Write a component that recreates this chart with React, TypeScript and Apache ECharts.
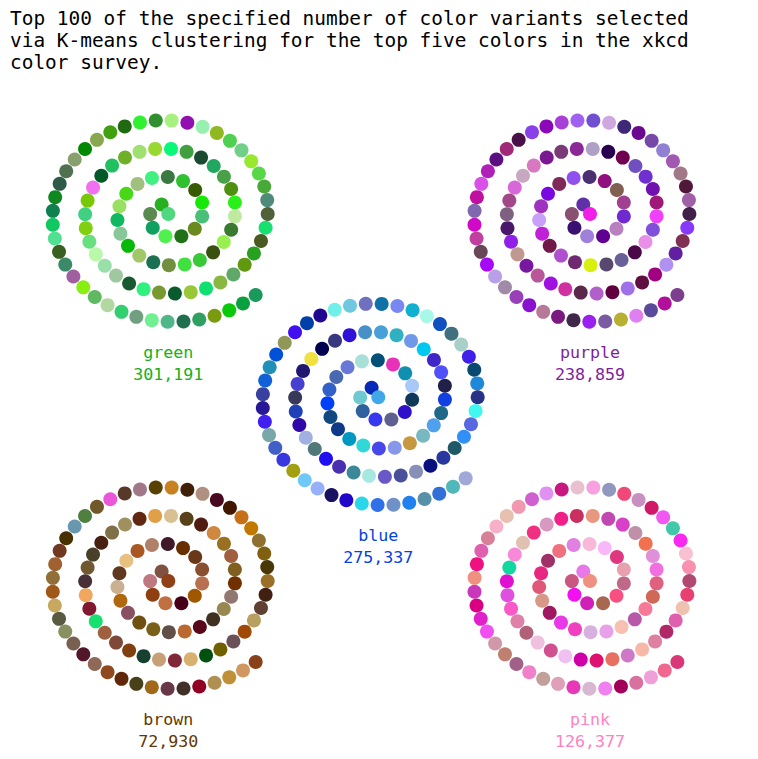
import React, { useEffect, useRef } from "react";
import * as echarts from "echarts";

const titleLines = [
  "Top 100 of the specified number of color variants selected",
  "via K-means clustering for the top five colors in the xkcd",
  "color survey.",
];

const spiralNames = ["green", "purple", "blue", "brown", "pink"];
const spiralCounts = ["301,191", "238,859", "275,337", "72,930", "126,377"];
const labelColors = ["#15b01a", "#7e1e9c", "#0343df", "#653700", "#ff81c0"];

// colors listed from the spiral centre (index 0) outward (index 99)
const greenColors = [
  "#50d880","#28b020","#5a8a50","#10a060","#50f050","#207018","#6a8a20","#48c078","#18e808","#385a00",
  "#30c030","#3a7a40","#40f080","#a0c080","#48d818","#98e060","#10b860","#88c898","#08b808","#a0c868",
  "#1a7050","#709040","#40e040","#38c838","#3a5010","#98f050","#3a7a30","#c0eaa0","#28f018","#509010",
  "#48a048","#20a860","#1a4a30","#40a040","#08f878","#98d830","#a0e070","#70b028","#20c060","#005a28",
  "#f070f0","#78c808","#40d080","#80d010","#68e080","#b8f8a8","#98e0a8","#a0c8a0","#185a30","#30f080",
  "#789830","#0a5a30","#98c838","#10e070","#88b840","#60a868","#609810","#28a020","#4a5a20","#18e070",
  "#506038","#508a78","#48a838","#58d848","#98e830","#70d088","#50d050","#90b820","#98f0b0","#9010b0",
  "#a8f080","#309030","#30f030","#206a10","#40a010","#88a850","#008800","#88a070","#507050","#305a48",
  "#108820","#108050","#10c860","#50e090","#3a6020","#3a8a6a","#a060a0","#88f010","#60b860","#b0d8a0",
  "#30d070","#70a080","#70f090","#50b888","#207050","#30a060","#7a9a10","#0ac80a","#0aa040","#1a9a5a",
];

const purpleColors = [
  "#f020e8","#6030a8","#8a5070","#3a1070","#a080d8","#600090","#b880c0","#7028d0","#a04090","#806050",
  "#901080","#4a3070","#9050f0","#802858","#7a08e0","#a030c0","#c8a0f8","#c020d8","#701848","#b050d0",
  "#702870","#d8f010","#584870","#6a6098","#4a0848","#e890e8","#8050d8","#f040f8","#a01878","#7010b0",
  "#7030d0","#7050c0","#700050","#2a0050","#b0a0c8","#8a2898","#7a3a78","#7a1890","#d878c0","#c8a8c0",
  "#d868d8","#a04888","#806080","#4a1868","#9020e8","#c09890","#7818a0","#b85898","#a010e0","#d030a0",
  "#5a2848","#b060c8","#600040","#a070e8","#601040","#a00080","#b090f0","#6020a0","#803050","#8838f8",
  "#402048","#a060a8","#501838","#a07888","#a058b0","#9080d0","#7848a8","#6a0890","#402878","#d0a8e0",
  "#7050d0","#a060f0","#a840d8","#8a08b8","#8a40e8","#4a1048","#a02878","#5a1080","#b020b8","#d850e8",
  "#c010a0","#8068b0","#d008c8","#c040a0","#684858","#a808f8","#b8a0e8","#a08aa8","#9840b8","#8a10d0",
  "#b87898","#7a1a80","#402848","#9a20f0","#7a5aa0","#b8b030","#e080f0","#5a4a9a","#b0109a","#7e3e8e",
];

const blueColors = [
  "#40a8e8","#0828b8","#70c8d0","#3060a0","#3838f0","#606090","#3010c8","#103858","#a8c8f8","#1090b0",
  "#e830b8","#005078","#a8e0d8","#6878d8","#4868b0","#3060c8","#0040f8","#104880","#103888","#0098c0",
  "#30d8d8","#4848e8","#8898e8","#c89840","#78b8c0","#50a0f0","#206888","#1040e0","#202048","#5050f8",
  "#4028c8","#00c8f0","#7098e8","#30b0c0","#48a0d8","#4890c8","#3010d8","#383880","#000050","#f0e040",
  "#201870","#4840d0","#383858","#2040b8","#3008a8","#a0b0e0","#507878","#2010f0","#4830b0","#3a8898",
  "#a8e8e0","#6858c8","#4a5098","#8890b8","#081080","#2838a0","#205868","#3090f8","#5868e0","#40f8f0",
  "#283088","#2088d8","#0a4a70","#4020e8","#a8d0c8","#407080","#1050c0","#a8f8e8","#10b0d0","#7888f0",
  "#1070a8","#7070c0","#70c8e0","#70f0e8","#200890","#0040a8","#4010f0","#909858","#0050d8","#2090b8",
  "#1060d8","#3840a0","#281898","#4020f0","#78a8a8","#4060c8","#3838e0","#a0a010","#70c8f8","#98b0f8",
  "#181060","#2008c8","#28d8e8","#3070e8","#7090c8","#2080f0","#5890a8","#3070d8","#50b8b8","#a0a8d8",
];

const brownColors = [
  "#904018","#805040","#c07880","#904010","#c07040","#480018","#a05800","#b87050","#885030","#683818",
  "#683000","#401828","#b08068","#a85820","#e8c080","#603820","#c8b090","#b06810","#885060","#705010",
  "#786018","#605048","#b86830","#580818","#403020","#988850","#907870","#703000","#806020","#a06040",
  "#987020","#d08840","#501c10","#584018","#d8c090","#e0a048","#602810","#a09060","#807048","#482010",
  "#484028","#705830","#483038","#f0a860","#801830","#18e070","#a06040","#804838","#804010","#184030",
  "#c8a078","#802838","#d8b070","#005010","#706000","#6a5058","#a04808","#b8a060","#604030","#402010",
  "#987028","#483808","#806010","#907030","#c07800","#c87018","#401800","#480820","#b09080","#402008",
  "#c88020","#584000","#a07888","#583828","#e858d8","#705828","#508040","#6898b0","#483000","#703820",
  "#a06030","#907038","#a05818","#c8a860","#5a5a40","#889060","#786050","#501828","#906858","#904820",
  "#602808","#484018","#a06818","#683848","#403028","#900020","#b09050","#c09038","#d09860","#8a4018",
];

const pinkColors = [
  "#f09080","#e878e8","#c85880","#f010f0","#d020b8","#a86850","#f85080","#c06888","#e8a0b0","#e03880",
  "#f8b8f8","#f8b8d8","#e080e0","#f07080","#a03068","#e82880","#e05878","#d89888","#a01860","#e838e8",
  "#f040c0","#d8b0e0","#e8a0e8","#f8c0b0","#b858a8","#f87898","#d06858","#e06080","#f070e0","#e090d8",
  "#f07050","#c090a8","#d840c8","#c048b0","#e89880","#c83060","#f02088","#d898c0","#f03080","#e0c0b0",
  "#f888d8","#10d8a0","#e010d0","#e050e0","#f858c8","#e080a8","#b06078","#f0c0e0","#d05090","#f0c0f0",
  "#d000a8","#e01070","#e87060","#d078c8","#f8b8a8","#e080a0","#b02868","#e060b0","#f0c0b0","#e84070",
  "#b04870","#f890b0","#f8c0d0","#f828f0","#40c8a8","#f058f0","#d01868","#c890c0","#f04878","#9098c0",
  "#f8a0e0","#e8c0d0","#c81880","#e090f0","#d060d0","#f098b0","#e8c0b0","#f8b0c8","#d88098","#e060b0",
  "#f01080","#f09080","#c838b8","#d80080","#e020c8","#f050f0","#d098a8","#c08070","#a06088","#f080c8",
  "#c0a098","#e0a0b8","#e838b8","#d8b8d0","#f080f0","#a00058","#d870a0","#f0a0d8","#f06890","#d83878",
];

const allColors = [greenColors, purpleColors, blueColors, brownColors, pinkColors];

// layout (pixels)
const centers: [number, number][] = [
  [168.3, 214],
  [590, 214],
  [378.3, 397.3],
  [168.3, 581],
  [590, 581],
];
const KX = 12.83; // px per unit along x
const KY = 11.17; // px per unit along y
const HALF_W = 150;
const HALF_H = 140;
const MONO = '"DejaVu Sans Mono", "Liberation Mono", monospace';

function spiralPoint(i: number): [number, number] {
  const r = Math.sqrt(i);
  const t = 2.48 * r - 0.36;
  return [r * Math.cos(t), r * Math.sin(t)];
}

export default function App() {
  const ref = useRef<HTMLDivElement>(null);
  useEffect(() => {
    if (!ref.current) return;
    const chart = echarts.init(ref.current, undefined, { renderer: "svg" });
    const grids: any[] = [];
    const xAxes: any[] = [];
    const yAxes: any[] = [];
    const series: any[] = [];
    const graphics: any[] = [];

    titleLines.forEach((line, k) => {
      graphics.push({
        type: "text",
        x: 10,
        y: 18 + k * 22,
        silent: true,
        style: {
          text: line,
          fill: "#000000",
          font: `19.44px ${MONO}`,
          textAlign: "left",
          textVerticalAlign: "middle",
        },
      });
    });

    allColors.forEach((colors, s) => {
      const [cx, cy] = centers[s];
      grids.push({
        left: cx - HALF_W,
        top: cy - HALF_H,
        width: HALF_W * 2,
        height: HALF_H * 2,
        containLabel: false,
        show: false,
      });
      xAxes.push({
        type: "value",
        gridIndex: s,
        min: -HALF_W / KX,
        max: HALF_W / KX,
        show: false,
      });
      yAxes.push({
        type: "value",
        gridIndex: s,
        min: -HALF_H / KY,
        max: HALF_H / KY,
        show: false,
      });
      const data: any[] = [];
      for (let i = colors.length - 1; i >= 0; i--) {
        data.push({ value: spiralPoint(i), itemStyle: { color: colors[i] } });
      }
      series.push({
        type: "scatter",
        xAxisIndex: s,
        yAxisIndex: s,
        symbol: "circle",
        symbolSize: 14,
        clip: false,
        silent: true,
        itemStyle: { opacity: 1 },
        data,
      });
      graphics.push({
        type: "text",
        x: cx,
        y: cy + 138,
        silent: true,
        style: {
          text: spiralNames[s],
          fill: labelColors[s],
          font: `16.67px ${MONO}`,
          textAlign: "center",
          textVerticalAlign: "middle",
        },
      });
      graphics.push({
        type: "text",
        x: cx,
        y: cy + 160,
        silent: true,
        style: {
          text: spiralCounts[s],
          fill: labelColors[s],
          font: `16.67px ${MONO}`,
          textAlign: "center",
          textVerticalAlign: "middle",
        },
      });
    });

    chart.setOption({
      animation: false,
      backgroundColor: "#ffffff",
      grid: grids,
      xAxis: xAxes,
      yAxis: yAxes,
      series,
      graphic: graphics,
    });
    return () => chart.dispose();
  }, []);
  return (
    <div
      ref={ref}
      style={{ position: "absolute", left: 0, top: 0, width: 758, height: 759 }}
    />
  );
}
